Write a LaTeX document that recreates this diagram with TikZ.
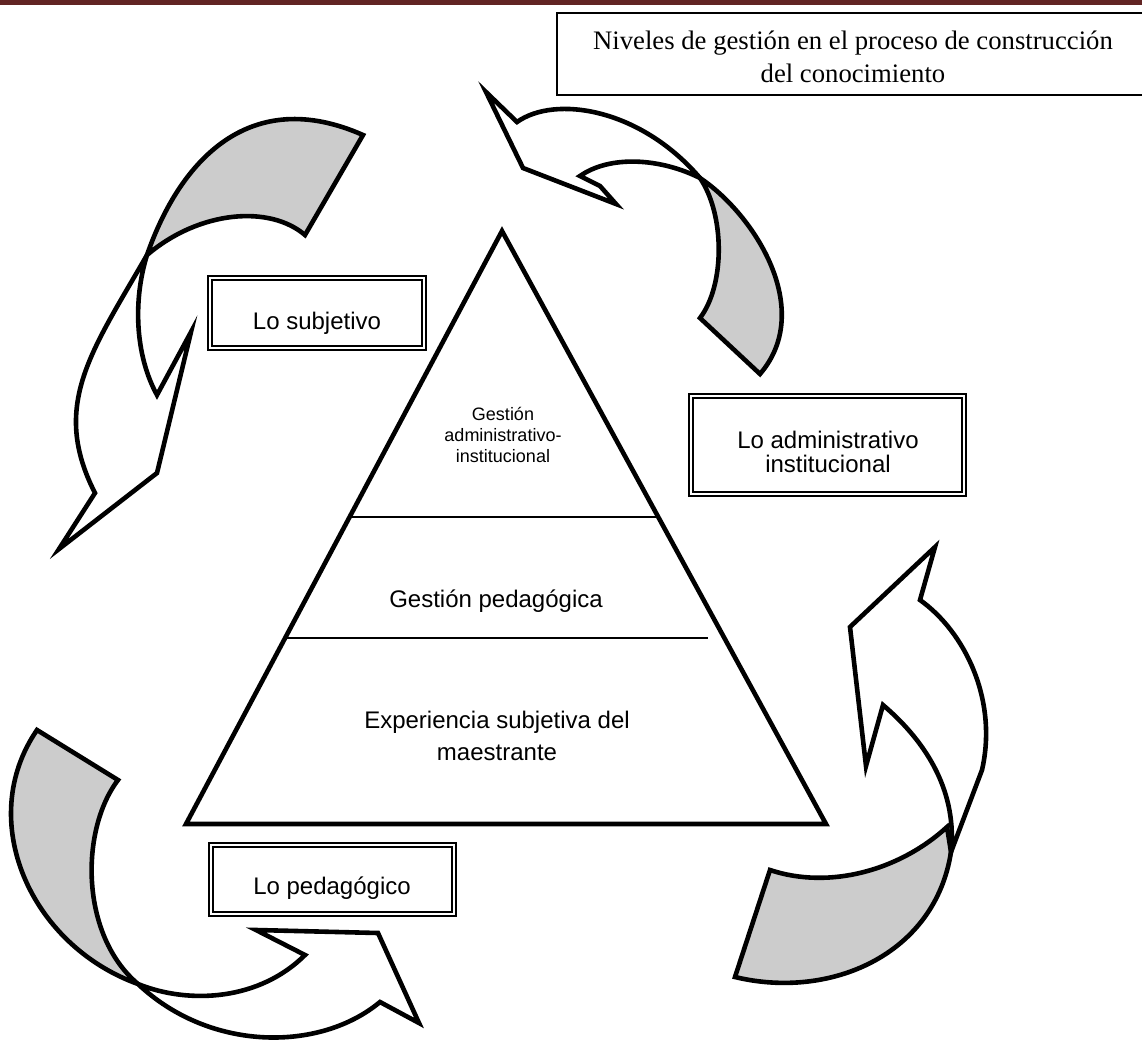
\documentclass[tikz,border=0pt]{standalone}
\usepackage{fontspec}
\setmainfont{Liberation Serif}
\setsansfont{Liberation Sans}
\usepackage{tikz}
\usetikzlibrary{calc}
\usepackage{xcolor}
\definecolor{headred}{RGB}{98,36,35}
\definecolor{backgray}{RGB}{204,204,204}

\begin{document}
\begin{tikzpicture}[
    x=0.5pt, y=-0.5pt,
    band/.style={draw, line width=2.3pt, line join=miter, fill=white},
    backface/.style={band, fill=backgray},
    frame/.style={draw, double, line width=1.1pt, double distance=0.9pt},
    level/.style={line width=1pt},
    boxtext/.style={font=\sffamily\fontsize{12}{12}\selectfont, align=center},
    tritext/.style={font=\sffamily\fontsize{12}{16}\selectfont, align=center},
    smalltext/.style={font=\sffamily\fontsize{9}{10.5}\selectfont, align=center},
    titletext/.style={font=\fontsize{13.35}{16.2}\selectfont, align=center}
]
\useasboundingbox (0,0) rectangle (1142,1040);
\fill[headred] (0,0) rectangle (1142,4.5);

% curled arrows round the pyramid
\filldraw[backface] (363,135) -- (305,235)
  .. controls (270,205) and (200,210) .. (147,255)
  .. controls (180,160) and (250,85) .. (363,135) -- cycle;
\filldraw[band] (147,255)
  .. controls (92,351) and (50,405) .. (95,493)
  -- (59,549) -- (157,473) -- (191,332) -- (157,395)
  .. controls (135,355) and (133,300) .. (147,255) -- cycle;

\filldraw[backface] (700,178)
  .. controls (755,215) and (815,310) .. (760,374)
  -- (700,318)
  .. controls (725,285) and (725,215) .. (700,178) -- cycle;
\filldraw[band] (486,92) -- (517,122)
  .. controls (555,95) and (640,108) .. (700,178)
  .. controls (660,158) and (610,155) .. (580,176)
  -- (600,186) -- (616,204) -- (523,168) -- cycle;

\filldraw[backface] (947,827) -- (951,852)
  .. controls (935,955) and (830,1000) .. (735,977)
  -- (770,870)
  .. controls (830,890) and (900,870) .. (947,827) -- cycle;
\filldraw[band] (935,547) -- (920,600)
  .. controls (965,632) and (998,700) .. (982,770)
  -- (951,852)
  .. controls (957,795) and (930,745) .. (883,705)
  -- (866,766) -- (850,627) -- cycle;

\filldraw[backface] (37,730) -- (118,780)
  .. controls (80,830) and (80,935) .. (138,984)
  .. controls (30,945) and (-25,820) .. (37,730) -- cycle;
\filldraw[band] (138,984)
  .. controls (190,1005) and (260,1000) .. (305,955)
  -- (256,930) -- (378,933) -- (419,1023) -- (380,1002)
  .. controls (320,1052) and (210,1052) .. (138,984) -- cycle;

% pyramid of levels
\coordinate (apex) at (502,231);
\coordinate (bl) at (186,824);
\coordinate (br) at (826,824);
\draw[line width=2.3pt, line join=miter] (apex) -- (br) -- (bl) -- cycle;
\draw[level] ($(apex)!0.4823!(bl)$) -- ($(apex)!0.4823!(br)$);
\draw[level] ($(apex)!0.6855!(bl)$) -- ($(apex)!0.6855!(br) + (-16,0)$);

\node[smalltext] (adm) at (503,435) {Gestión\\administrativo-\\institucional};
\node[tritext, anchor=base] (ped) at (496,607) {Gestión pedagógica};
\node[tritext] (exp) at (497,736) {Experiencia subjetiva del\\maestrante};

% side labels
\draw[frame] (210,278) rectangle (424,348);
\node[boxtext, anchor=base] (subj) at (317,329) {Lo subjetivo};
\draw[frame] (691,396) rectangle (964,494);
\node[boxtext] (inst) at (828,452) {Lo administrativo\\institucional};
\draw[frame] (211,845) rectangle (454,914);
\node[boxtext, anchor=base] (peda) at (332,894) {Lo pedagógico};

% title
\draw[line width=0.9pt] (557,13) rectangle (1160,95);
\node[titletext] (title) at (853,57) {Niveles de gestión en el proceso de construcción\\del conocimiento};
\end{tikzpicture}
\end{document}
